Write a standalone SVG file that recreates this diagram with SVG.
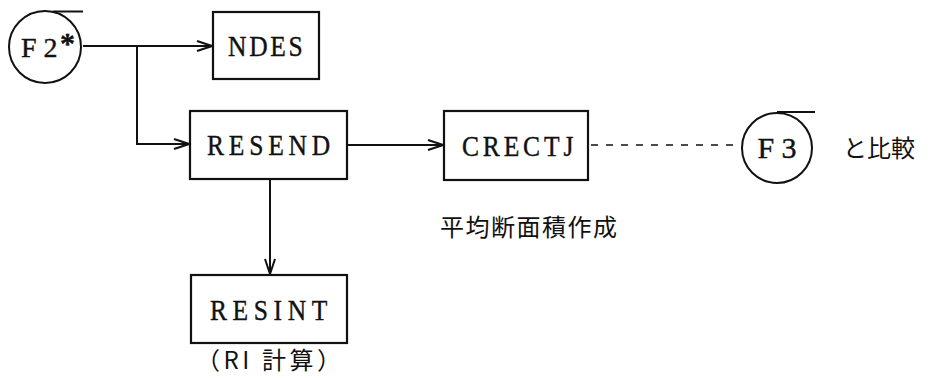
<svg xmlns="http://www.w3.org/2000/svg" width="948" height="378" viewBox="0 0 948 378">
<style>
.box{fill:#fff;stroke:#111;stroke-width:2.2}
.circ{fill:none;stroke:#111;stroke-width:2}
.ln{fill:none;stroke:#111;stroke-width:2}
.dash{fill:none;stroke:#111;stroke-width:1.6;stroke-dasharray:7 8}
.lbl{font-family:"Liberation Serif","Times New Roman",serif;font-size:30px;fill:#111;stroke:#111;stroke-width:0.4}
.jp{font-family:"Noto Sans CJK JP","Noto Sans",sans-serif;font-size:24px;fill:#111}
</style>
<defs>
<marker id="arr" markerWidth="18" markerHeight="12" refX="16" refY="6" orient="auto" markerUnits="userSpaceOnUse">
<path d="M1,1 L16,6 L1,11" fill="none" stroke="#111" stroke-width="2"/>
</marker>
</defs>
<g id="connectors">
<line class="ln" x1="83" y1="46" x2="212" y2="46" marker-end="url(#arr)"/>
<polyline class="ln" points="137,46 137,144 189,144" marker-end="url(#arr)"/>
<line class="ln" x1="347" y1="145" x2="443" y2="145" marker-end="url(#arr)"/>
<line class="ln" x1="270" y1="179" x2="270" y2="274" marker-end="url(#arr)"/>
<line class="dash" x1="591" y1="145" x2="734" y2="145"/>
</g>
<g id="F2">
<circle class="circ" cx="45" cy="47" r="36"/>
<line class="ln" x1="53" y1="11.5" x2="83" y2="11.5"/>
<text class="lbl" x="21" y="57" style="font-size:28px">F 2</text>
<text class="lbl" x="60" y="53" style="font-size:30px;font-weight:bold">*</text>
</g>
<g id="NDES">
<rect class="box" x="213" y="12" width="106" height="67"/>
<text class="lbl" transform="translate(228,56) scale(0.85,1)" x="0" y="0" textLength="88">NDES</text>
</g>
<g id="RESEND">
<rect class="box" x="190" y="111" width="157" height="68"/>
<text class="lbl" transform="translate(207,155) scale(0.85,1)" x="0" y="0" textLength="145">RESEND</text>
</g>
<g id="CRECTJ">
<rect class="box" x="444" y="111" width="144" height="69"/>
<text class="lbl" transform="translate(462,156) scale(0.85,1)" x="0" y="0" textLength="131">CRECTJ</text>
<text class="jp" x="440" y="236" textLength="177">平均断面積作成</text>
</g>
<g id="RESINT">
<rect class="box" x="191" y="275" width="156" height="68"/>
<text class="lbl" transform="translate(210,320) scale(0.85,1)" x="0" y="0" textLength="138">RESINT</text>
<text class="jp" x="196" y="369" textLength="145">（RI 計算）</text>
</g>
<g id="F3">
<circle class="circ" cx="777" cy="148" r="35"/>
<line class="ln" x1="777" y1="112" x2="815" y2="112"/>
<text class="lbl" x="777" y="158" text-anchor="middle">F 3</text>
<text class="jp" x="843" y="157">と比較</text>
</g>
</svg>
